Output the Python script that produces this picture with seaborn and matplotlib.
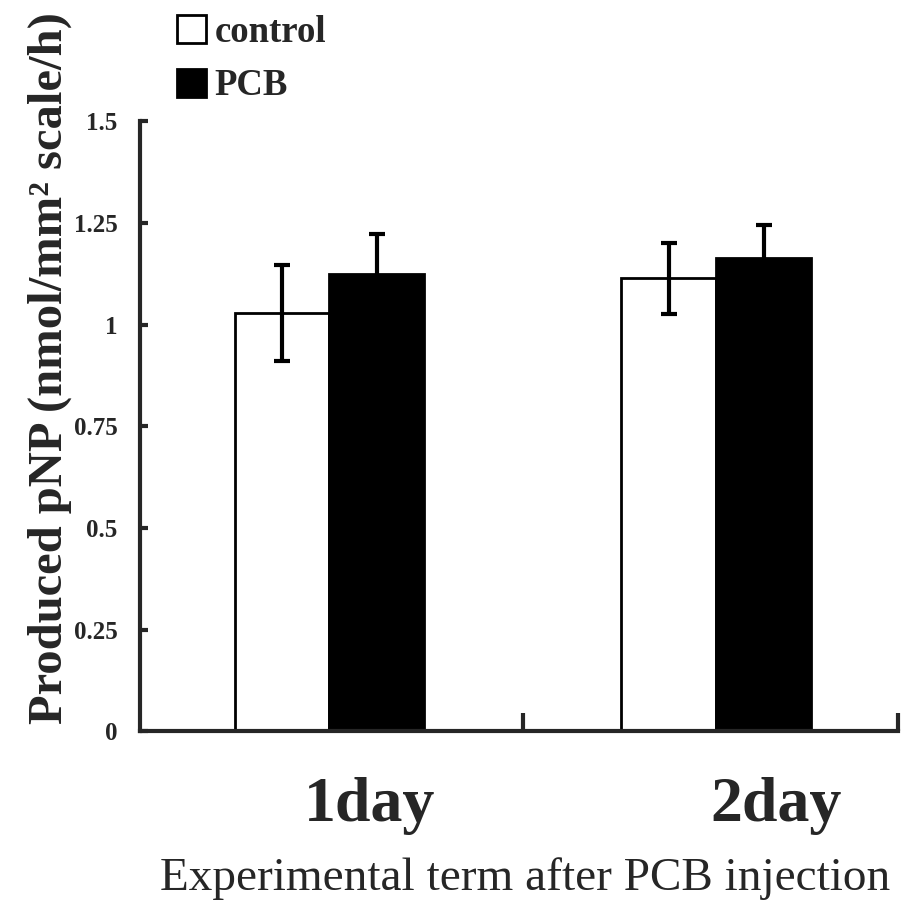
import numpy as np
import pandas as pd
import matplotlib
matplotlib.use("Agg")
import matplotlib.pyplot as plt
import matplotlib.transforms as mtransforms
from matplotlib.patches import Patch
import seaborn as sns

# values
days = ["1day", "2day"]
groups = ["control", "PCB"]
control_mean = [1.028, 1.114]
control_err = [0.118, 0.088]
pcb_mean = [1.124, 1.163]
pcb_err = [0.100, 0.083]
y_ticks = [0, 0.25, 0.5, 0.75, 1, 1.25, 1.5]
y_ticklabels = ["0", "0.25", "0.5", "0.75", "1", "1.25", "1.5"]

df = pd.DataFrame({
    "day": days * 2,
    "group": ["control"] * 2 + ["PCB"] * 2,
    "value": control_mean + pcb_mean,
    "err": control_err + pcb_err,
})

sns.set_style("ticks")
plt.rcParams["font.family"] = ["Liberation Serif", "DejaVu Serif"]

fig, ax = plt.subplots(figsize=(9.08, 9.06), dpi=100)
fig.subplots_adjust(left=0.154, right=0.989, bottom=0.193, top=0.866)

sns.barplot(data=df, x="day", y="value", hue="group", hue_order=groups,
            palette={"control": "white", "PCB": "black"}, edgecolor="black",
            linewidth=2, width=0.49, errorbar=None, legend=False, ax=ax)

# error bars at the bar centres
for patch_group, g in zip(ax.containers, groups):
    sub = df[df["group"] == g]
    xs = [p.get_x() + p.get_width() / 2 for p in patch_group]
    ax.errorbar(xs, sub["value"], yerr=sub["err"], fmt="none", ecolor="black",
                elinewidth=3, capsize=6, capthick=3, zorder=5)

ax.set_yticks(y_ticks)
ax.set_yticklabels(y_ticklabels, fontsize=18, fontweight="bold")
ax.tick_params(axis="y", direction="in", length=6, width=3, pad=16)

ax.set_xticks([0, 1])
ax.set_xticklabels(days, fontsize=46, fontweight="bold")
ax.tick_params(axis="x", which="major", length=0, pad=33)
ax.set_xticks([0.5, 1.47], minor=True)
ax.tick_params(axis="x", which="minor", direction="in", length=13, width=3)
ax.set_ylim(0, 1.5)
ax.set_xlim(-0.49, 1.47)

# the day labels sit a little right of the bar groups in the original
for lbl, dx in zip(ax.get_xticklabels(), [40, 60]):
    lbl.set_transform(lbl.get_transform() +
                      mtransforms.ScaledTranslation(dx / 100, 0, fig.dpi_scale_trans))

for side in ["top", "right"]:
    ax.spines[side].set_visible(False)
for side in ["left", "bottom"]:
    ax.spines[side].set_linewidth(3)

ax.set_xlabel("Experimental term after PCB injection", fontsize=34)
ax.xaxis.set_label_coords(0.508, -0.206)
ax.set_ylabel("Produced pNP (nmol/mm² scale/h)", fontsize=35, fontweight="bold")
ax.yaxis.set_label_coords(-0.09, 0.595)

handles = [Patch(facecolor="white", edgecolor="black", linewidth=2),
           Patch(facecolor="black", edgecolor="black", linewidth=2)]
fig.legend(handles, groups, loc="upper left", bbox_to_anchor=(177 / 908, 1 - 15 / 906),
           frameon=False, prop={"size": 26.5, "weight": "bold"}, borderpad=0,
           borderaxespad=0, handlelength=0.8, handleheight=0.8,
           handletextpad=0.22, labelspacing=0.5)

fig.savefig("out.png", dpi=100)
